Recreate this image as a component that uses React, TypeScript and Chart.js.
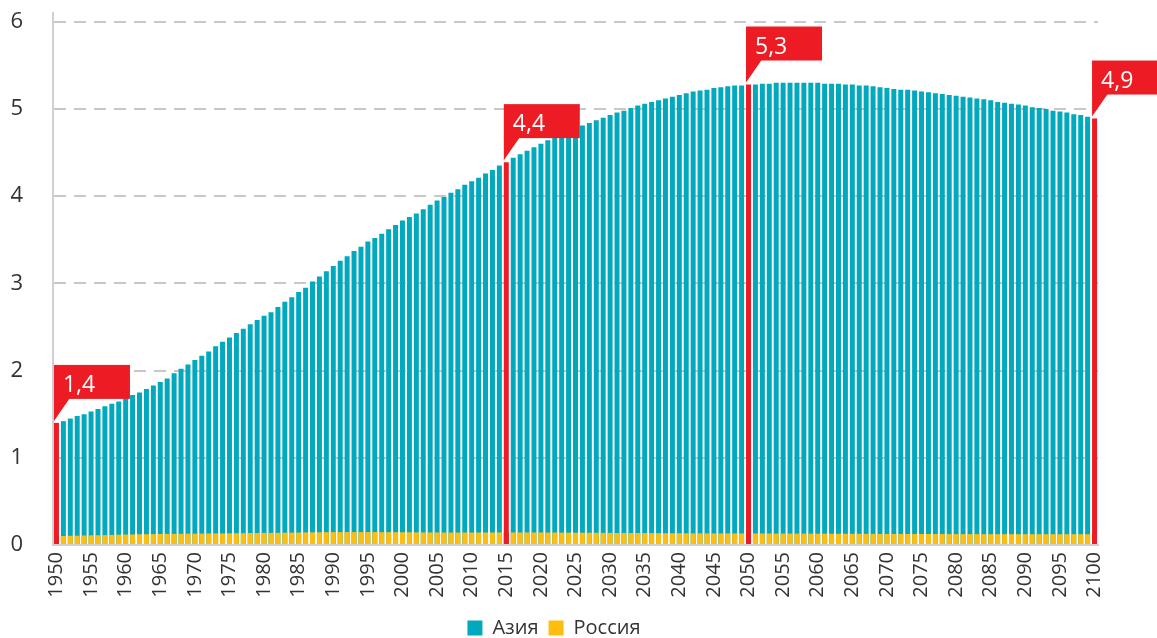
import React, { useEffect, useRef } from 'react';
import { Chart, registerables } from 'chart.js';

Chart.register(...registerables);

const YEAR_START = 1950;
const YEAR_END = 2100;
const YEARS: number[] = [];
for (let y = YEAR_START; y <= YEAR_END; y++) YEARS.push(y);

const Y_TICKS = [0, 1, 2, 3, 4, 5, 6];

// Asia population, billions (1950..2100)
const ASIA: number[] = [
  1.40, 1.42, 1.45, 1.48, 1.50, 1.53, 1.56, 1.59, 1.62, 1.645,
  1.69, 1.72, 1.75, 1.79, 1.83, 1.87, 1.91, 1.97, 2.02, 2.07,
  2.12, 2.17, 2.22, 2.28, 2.33, 2.38, 2.43, 2.48, 2.53, 2.58,
  2.63, 2.67, 2.73, 2.79, 2.84, 2.90, 2.95, 3.02, 3.08, 3.14,
  3.20, 3.26, 3.31, 3.37, 3.42, 3.48, 3.52, 3.57, 3.62, 3.67,
  3.72, 3.76, 3.80, 3.85, 3.90, 3.95, 3.99, 4.04, 4.08, 4.13,
  4.17, 4.21, 4.26, 4.30, 4.35, 4.39, 4.44, 4.48, 4.52, 4.56,
  4.60, 4.64, 4.68, 4.71, 4.75, 4.78, 4.81, 4.84, 4.87, 4.90,
  4.93, 4.96, 4.98, 5.01, 5.04, 5.06, 5.08, 5.10, 5.12, 5.14,
  5.16, 5.18, 5.20, 5.21, 5.22, 5.24, 5.25, 5.26, 5.27, 5.27,
  5.28, 5.28, 5.29, 5.29, 5.30, 5.30, 5.30, 5.30, 5.30, 5.30,
  5.30, 5.29, 5.29, 5.29, 5.28, 5.28, 5.27, 5.27, 5.26, 5.25,
  5.24, 5.23, 5.22, 5.22, 5.21, 5.20, 5.19, 5.18, 5.17, 5.16,
  5.15, 5.14, 5.13, 5.12, 5.11, 5.10, 5.08, 5.07, 5.06, 5.05,
  5.04, 5.02, 5.01, 5.00, 4.98, 4.97, 4.96, 4.94, 4.93, 4.91,
  4.89,
];

// Russia population, billions (1950..2100)
const RUSSIA: number[] = [
  0.103, 0.104, 0.106, 0.107, 0.109, 0.111, 0.112, 0.114, 0.116, 0.118,
  0.120, 0.121, 0.123, 0.124, 0.125, 0.127, 0.127, 0.128, 0.129, 0.130,
  0.130, 0.131, 0.132, 0.133, 0.133, 0.134, 0.135, 0.136, 0.137, 0.138,
  0.139, 0.139, 0.140, 0.141, 0.142, 0.143, 0.144, 0.145, 0.146, 0.147,
  0.148, 0.148, 0.148, 0.148, 0.148, 0.148, 0.148, 0.147, 0.147, 0.146,
  0.146, 0.146, 0.145, 0.144, 0.144, 0.144, 0.143, 0.143, 0.143, 0.143,
  0.143, 0.143, 0.143, 0.143, 0.144, 0.144, 0.144, 0.144, 0.144, 0.144,
  0.144, 0.143, 0.143, 0.142, 0.142, 0.141, 0.141, 0.140, 0.140, 0.139,
  0.139, 0.138, 0.138, 0.137, 0.137, 0.137, 0.136, 0.136, 0.135, 0.135,
  0.135, 0.134, 0.134, 0.134, 0.133, 0.133, 0.133, 0.133, 0.133, 0.133,
  0.133, 0.132, 0.132, 0.132, 0.131, 0.131, 0.131, 0.131, 0.130, 0.130,
  0.130, 0.130, 0.129, 0.129, 0.129, 0.128, 0.128, 0.128, 0.128, 0.127,
  0.127, 0.127, 0.127, 0.126, 0.126, 0.126, 0.126, 0.126, 0.125, 0.125,
  0.125, 0.125, 0.125, 0.125, 0.124, 0.124, 0.124, 0.124, 0.124, 0.124,
  0.124, 0.124, 0.124, 0.124, 0.124, 0.124, 0.124, 0.124, 0.124, 0.124,
  0.124,
];

const HIGHLIGHT_YEARS = [1950, 2015, 2050, 2100];
const HIGHLIGHT_LABELS = ['1,4', '4,4', '5,3', '4,9'];

const TEAL = '#00A9BD';
const YELLOW = '#FDBE10';
const RED = '#ED1C24';
const FONT = '"Open Sans", "Noto Sans", sans-serif';

const calloutPlugin = {
  id: 'callouts',
  afterDatasetsDraw(chart: any) {
    const ctx = chart.ctx;
    const meta = chart.getDatasetMeta(0);
    HIGHLIGHT_YEARS.forEach((yr, k) => {
      const i = YEARS.indexOf(yr);
      const el = meta.data[i];
      if (!el) return;
      const left = el.x - el.width / 2;
      const tipY = el.y - 2;
      const boxBottom = tipY - 22;
      const boxTop = boxBottom - 34;
      ctx.save();
      ctx.fillStyle = RED;
      ctx.fillRect(left, boxTop, 76, 34);
      ctx.beginPath();
      ctx.moveTo(left, boxBottom - 1);
      ctx.lineTo(left + 16, boxBottom - 1);
      ctx.lineTo(left, tipY);
      ctx.closePath();
      ctx.fill();
      ctx.fillStyle = '#ffffff';
      ctx.font = `500 23px ${FONT}`;
      ctx.textBaseline = 'alphabetic';
      ctx.textAlign = 'left';
      ctx.fillText(HIGHLIGHT_LABELS[k], left + 9, boxTop + 27);
      ctx.restore();
    });
  },
};

const CANVAS_W = 1157;
const CANVAS_H = 648;

export default function App() {
  const canvasRef = useRef<HTMLCanvasElement | null>(null);

  useEffect(() => {
    document.body.style.margin = '0';
    document.body.style.overflow = 'hidden';
    document.documentElement.style.overflow = 'hidden';
    const canvas = canvasRef.current;
    if (!canvas) return;

    const asiaColors = YEARS.map((y) => (HIGHLIGHT_YEARS.includes(y) ? RED : TEAL));
    const russiaColors = YEARS.map((y) => (HIGHLIGHT_YEARS.includes(y) ? RED : YELLOW));

    const chart = new Chart(canvas, {
      type: 'bar',
      data: {
        labels: YEARS.map(String),
        datasets: [
          {
            label: 'Азия',
            data: ASIA,
            backgroundColor: asiaColors,
            grouped: false,
            order: 2,
            categoryPercentage: 1,
            barPercentage: 0.72,
          } as any,
          {
            label: 'Россия',
            data: RUSSIA,
            backgroundColor: russiaColors,
            grouped: false,
            order: 1,
            categoryPercentage: 1,
            barPercentage: 0.72,
          } as any,
        ],
      },
      options: {
        responsive: false,
        animation: false,
        devicePixelRatio: 1,
        layout: { padding: { left: 10, right: 59, top: 13, bottom: 0 } },
        plugins: {
          tooltip: { enabled: false },
          legend: {
            position: 'bottom',
            labels: {
              boxWidth: 15,
              boxHeight: 15,
              padding: 10,
              color: '#333333',
              font: { family: FONT, size: 20 },
              generateLabels: (ch: any) =>
                ch.data.datasets.map((ds: any, i: number) => ({
                  text: ds.label,
                  fillStyle: i === 0 ? TEAL : YELLOW,
                  strokeStyle: i === 0 ? TEAL : YELLOW,
                  lineWidth: 0,
                  hidden: false,
                  datasetIndex: i,
                  fontColor: '#333333',
                })),
            },
          },
        },
        scales: {
          x: {
            grid: { display: false, drawTicks: false },
            border: { display: true, color: '#d0d0d0', width: 2 },
            ticks: {
              autoSkip: false,
              minRotation: 90,
              maxRotation: 90,
              padding: 7,
              color: '#333333',
              font: { family: FONT, size: 20 },
              callback: (_v: any, idx: number) => (YEARS[idx] % 5 === 0 ? String(YEARS[idx]) : ''),
            },
            afterFit: (scale: any) => {
              scale.height = 63;
              scale.paddingLeft = 0;
              scale.paddingRight = 0;
              scale.paddingTop = 0;
              scale.paddingBottom = 0;
            },
          },
          y: {
            min: 0,
            max: 6.1,
            grid: {
              color: '#c8c8c8',
              lineWidth: 2,
              drawTicks: false,
            },
            border: { display: true, color: '#d0d0d0', width: 2, dash: [12, 8] },
            ticks: {
              padding: 30,
              color: '#333333',
              font: { family: FONT, size: 22 },
              callback: (v: any) => String(v),
            },
            afterBuildTicks: (scale: any) => {
              scale.ticks = Y_TICKS.map((v) => ({ value: v }));
            },
            afterFit: (scale: any) => {
              scale.width = 43;
              scale.paddingLeft = 0;
              scale.paddingRight = 0;
              scale.paddingTop = 0;
              scale.paddingBottom = 0;
            },
          },
        },
      },
      plugins: [calloutPlugin],
    });

    return () => chart.destroy();
  }, []);

  return (
    <div style={{ width: CANVAS_W, height: CANVAS_H, position: 'relative' }}>
      <canvas ref={canvasRef} width={CANVAS_W} height={CANVAS_H} />
    </div>
  );
}
